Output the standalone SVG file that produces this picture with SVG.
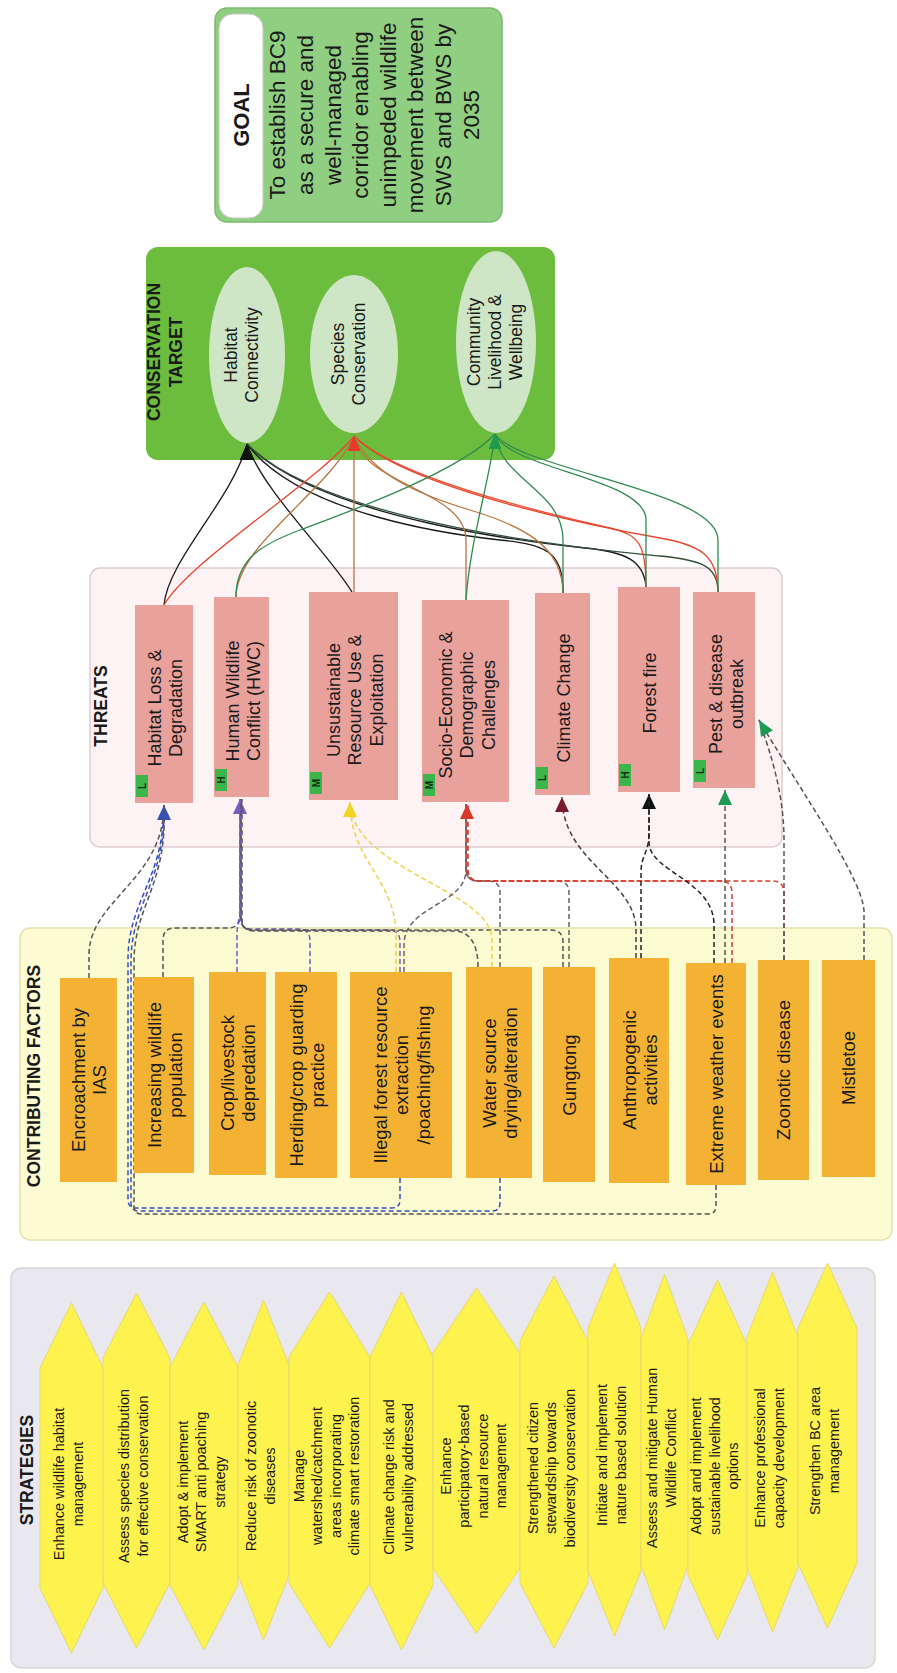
<svg xmlns="http://www.w3.org/2000/svg" width="897" height="1673" viewBox="0 0 897 1673">
<style>
text{font-family:"Liberation Sans",Arial,sans-serif;fill:#1a1a1a;text-anchor:middle}
.hdr{font-size:17.5px;font-weight:bold}
.goal{font-size:22.5px}
.goalh{font-size:22px;font-weight:bold}
.tg{font-size:17.5px}
.th{font-size:18px}
.cf{font-size:18.5px}
.st{font-size:14.5px}
.bd{font-size:10px;font-weight:bold;fill:#133013}
.thr{fill:#e9a19c}
.fac{fill:#f4b234}
.hex{fill:#fef24f;stroke:#e6da6c;stroke-width:1}
.ell{fill:#cfe6c6}
.badge{fill:#3cb54a}
.dl{fill:none;stroke-width:1.5;stroke-dasharray:5 3}
.sl{fill:none;stroke-width:1.3}
</style>
<defs>
<marker id="ab" markerUnits="userSpaceOnUse" markerWidth="14" markerHeight="16" viewBox="0 0 14 16" refX="7" refY="0" orient="0"><path d="M7,0 L14,16 L0,16 Z" fill="#111"/></marker>
<marker id="ar" markerUnits="userSpaceOnUse" markerWidth="12" markerHeight="15" viewBox="0 0 12 15" refX="6" refY="0" orient="0"><path d="M6,0 L12,15 L0,15 Z" fill="#e23b2a"/></marker>
<marker id="ag" markerUnits="userSpaceOnUse" markerWidth="12" markerHeight="15" viewBox="0 0 12 15" refX="6" refY="0" orient="0"><path d="M6,0 L12,15 L0,15 Z" fill="#1f9a52"/></marker>
<marker id="mblue" markerUnits="userSpaceOnUse" markerWidth="14" markerHeight="15" viewBox="0 0 14 15" refX="7" refY="0" orient="0"><path d="M7,0 L14,15 L0,15 Z" fill="#3550c0"/></marker>
<marker id="mpur" markerUnits="userSpaceOnUse" markerWidth="14" markerHeight="15" viewBox="0 0 14 15" refX="7" refY="0" orient="0"><path d="M7,0 L14,15 L0,15 Z" fill="#7a5cc6"/></marker>
<marker id="myel" markerUnits="userSpaceOnUse" markerWidth="14" markerHeight="15" viewBox="0 0 14 15" refX="7" refY="0" orient="0"><path d="M7,0 L14,15 L0,15 Z" fill="#f2d41e"/></marker>
<marker id="mred" markerUnits="userSpaceOnUse" markerWidth="14" markerHeight="15" viewBox="0 0 14 15" refX="7" refY="0" orient="0"><path d="M7,0 L14,15 L0,15 Z" fill="#d8392b"/></marker>
<marker id="mmar" markerUnits="userSpaceOnUse" markerWidth="14" markerHeight="15" viewBox="0 0 14 15" refX="7" refY="0" orient="0"><path d="M7,0 L14,15 L0,15 Z" fill="#7a1a2c"/></marker>
<marker id="mblk" markerUnits="userSpaceOnUse" markerWidth="14" markerHeight="15" viewBox="0 0 14 15" refX="7" refY="0" orient="0"><path d="M7,0 L14,15 L0,15 Z" fill="#111"/></marker>
<marker id="mgrn" markerUnits="userSpaceOnUse" markerWidth="14" markerHeight="15" viewBox="0 0 14 15" refX="7" refY="0" orient="0"><path d="M7,0 L14,15 L0,15 Z" fill="#1f9a52"/></marker>
<marker id="mgs" markerUnits="userSpaceOnUse" markerWidth="16" markerHeight="14" viewBox="0 0 16 14" refX="16" refY="7" orient="auto"><path d="M0,0 L16,7 L0,14 Z" fill="#1f9a52"/></marker>
</defs>
<rect width="897" height="1673" fill="#ffffff"/>

<!-- containers -->
<g id="containers">
<rect x="146" y="247" width="409" height="213" rx="12" fill="#6cbd3e"/>
<rect x="90" y="568" width="692" height="279" rx="10" fill="#fdf2f4" stroke="#e0ccd1" stroke-width="1.5"/>
<rect x="20" y="928" width="872" height="312" rx="10" fill="#fdfbd2" stroke="#e6e1ab" stroke-width="1.5"/>
<rect x="11" y="1268" width="864" height="400" rx="10" fill="#e9e8ee" stroke="#d6d5da" stroke-width="1.5"/>
<text class="hdr" transform="translate(165,352) rotate(-90)"><tspan x="0" y="-4.9">CONSERVATION</tspan><tspan x="0" y="17.1">TARGET</tspan></text>
<text class="hdr" transform="translate(101,706) rotate(-90)"><tspan x="0" y="6.1">THREATS</tspan></text>
<text class="hdr" transform="translate(34,1076) rotate(-90)"><tspan x="0" y="6.1">CONTRIBUTING FACTORS</tspan></text>
<text class="hdr" transform="translate(27,1470) rotate(-90)"><tspan x="0" y="6.1">STRATEGIES</tspan></text>
</g>

<!-- connectors -->
<g id="connectors">
<g id="target-links">
<path class="sl" stroke="#1b1b1b" d="M164,605 C168,560 232,500 247,444" marker-end="url(#ab)"/>
<path class="sl" stroke="#1b1b1b" d="M352,592 C330,555 262,490 247,444" marker-end="url(#ab)"/>
<path class="sl" stroke="#1b1b1b" stroke-width="2.6" d="M563,593 C563,550 545,545 500,540 S300,515 247,444" marker-end="url(#ab)"/>
<path class="sl" stroke="#1b1b1b" stroke-width="1.5" d="M646,587 C644,560 625,552 585,548 S320,520 247,444" marker-end="url(#ab)"/>
<path class="sl" stroke="#2f4f3a" stroke-width="1.5" d="M718,592 C718,565 700,560 660,556 S330,528 247,444" marker-end="url(#ab)"/>
<path class="sl" stroke="#e8452c" d="M164,605 C190,560 320,480 354,436" marker-end="url(#ar)"/>
<path class="sl" stroke="#b8743e" d="M236,597 C236,545 330,490 354,436" marker-end="url(#ar)"/>
<path class="sl" stroke="#b8743e" d="M354,592 L354,436" marker-end="url(#ar)"/>
<path class="sl" stroke="#b8743e" d="M466,600 L466,540 C466,490 362,485 354,436" marker-end="url(#ar)"/>
<path class="sl" stroke="#ea4a2e" stroke-width="2.6" d="M646,587 C646,545 640,535 610,528 S400,482 354,436" marker-end="url(#ar)"/>
<path class="sl" stroke="#e8452c" d="M718,592 C718,555 700,545 660,538 S410,492 354,436" marker-end="url(#ar)"/>
<path class="sl" stroke="#b8743e" d="M563,593 C563,545 520,525 470,510 S372,475 354,436" marker-end="url(#ar)"/>
<path class="sl" stroke="#2f8a50" d="M236,597 C236,560 260,545 300,530 S460,472 495,434" marker-end="url(#ag)"/>
<path class="sl" stroke="#2f8a50" d="M466,600 C470,540 490,480 495,434" marker-end="url(#ag)"/>
<path class="sl" stroke="#2f8a50" d="M563,593 L563,540 C563,490 500,480 495,434" marker-end="url(#ag)"/>
<path class="sl" stroke="#2f8a50" d="M646,587 L646,520 C646,478 510,470 495,434" marker-end="url(#ag)"/>
<path class="sl" stroke="#2f8a50" d="M718,592 L718,540 C718,490 520,470 495,434" marker-end="url(#ag)"/>
</g>
<g id="factor-links">
<path class="dl" stroke="#555" d="M89,978 L89,955 C89,900 164,880 164,805"/>
<path class="dl" stroke="#3550c0" d="M400,1178 L400,1200 Q400,1208 392,1208 L136,1208 Q128,1208 128,1200 L128,960 C128,900 164,880 164,805" marker-end="url(#mblue)"/>
<path class="dl" stroke="#3550c0" d="M500,1178 L500,1203 Q500,1211 492,1211 L139,1211 Q131,1211 131,1203 L131,962 C131,902 166,882 164,805"/>
<path class="dl" stroke="#555" d="M716,1185 L716,1206 Q716,1214 708,1214 L142,1214 Q134,1214 134,1206 L134,962 C134,905 168,885 164,805"/>
<path class="dl" stroke="#555" d="M163,977 L163,940 Q163,928 175,928 L228,928 Q240,928 240,916 L240,799"/>
<path class="dl" stroke="#7558c0" d="M237,972 L237,935 Q237,925 240,915 L240,799" marker-end="url(#mpur)"/>
<path class="dl" stroke="#7558c0" d="M310,972 L310,941 Q310,929 298,929 L252,929 Q240,929 240,917 L240,799"/>
<path class="dl" stroke="#7558c0" d="M400,972 L400,942 Q400,930 388,930 L253,930 Q241,930 241,918 L241,799"/>
<path class="dl" stroke="#555" d="M478,967 C478,945 470,931 455,931 L254,931 Q242,931 242,919 L242,799"/>
<path class="dl" stroke="#555" d="M563,967 L563,942 Q563,930 551,930 L253,930 Q241,930 241,918 L241,799"/>
<path class="dl" stroke="#efd24a" d="M396,972 L396,935 C396,880 350,860 350,802" marker-end="url(#myel)"/>
<path class="dl" stroke="#efd24a" d="M492,967 L492,940 C492,890 352,870 350,802"/>
<path class="dl" stroke="#666" d="M404,972 L404,945 C404,905 466,905 466,870 L466,804"/>
<path class="dl" stroke="#666" d="M500,967 L500,893 Q500,881 488,881 L478,881 Q466,881 466,869 L466,804"/>
<path class="dl" stroke="#666" d="M569,967 L569,893 Q569,881 557,881 L478,881 Q466,881 466,869 L466,804"/>
<path class="dl" stroke="#d83a2a" d="M732,963 L732,893 Q732,881 720,881 L479,881 Q467,881 467,869 L467,804" marker-end="url(#mred)"/>
<path class="dl" stroke="#d83a2a" d="M784,960 L784,893 Q784,881 772,881 L480,881 Q468,881 468,869 L468,804"/>
<path class="dl" stroke="#4a3a3e" d="M636,958 L636,930 C636,880 562,862 562,797" marker-end="url(#mmar)"/>
<path class="dl" stroke="#222" d="M641,958 L641,872 C641,856 649,852 649,834 L649,794" marker-end="url(#mblk)"/>
<path class="dl" stroke="#222" d="M714,963 L714,925 C714,880 649,872 649,842 L649,794"/>
<path class="dl" stroke="#555" d="M725,963 L725,790" marker-end="url(#mgrn)"/>
<path class="dl" stroke="#555" d="M784,960 L784,840 C784,792 770,752 759,720"/>
<path class="dl" stroke="#555" d="M864,960 L864,912 C864,880 800,790 759,720" marker-end="url(#mgs)"/>
</g>
</g>

<!-- goal -->
<g id="goal">
<rect x="215" y="8" width="287" height="214" rx="12" fill="#90cf82" stroke="#7db86f" stroke-width="1.5"/>
<rect x="219" y="14" width="44" height="204" rx="14" fill="#ffffff" stroke="#c9c9c9" stroke-width="1"/>
<text class="goalh" transform="translate(241,115) rotate(-90)"><tspan x="0" y="7.7">GOAL</tspan></text>
<text class="goal" transform="translate(374,115) rotate(-90)"><tspan x="0" y="-88.7">To establish BC9</tspan><tspan x="0" y="-61.1">as a secure and</tspan><tspan x="0" y="-33.5">well-managed</tspan><tspan x="0" y="-5.9">corridor enabling</tspan><tspan x="0" y="21.7">unimpeded wildlife</tspan><tspan x="0" y="49.3">movement between</tspan><tspan x="0" y="76.9">SWS and BWS by</tspan><tspan x="0" y="104.5">2035</tspan></text>
</g>

<!-- conservation targets -->
<g id="target-habitat"><ellipse class="ell" cx="247" cy="355" rx="38" ry="88"/><text class="tg" transform="translate(241,355) rotate(-90)"><tspan x="0" y="-4.4">Habitat</tspan><tspan x="0" y="16.6">Connectivity</tspan></text></g>
<g id="target-species"><ellipse class="ell" cx="354" cy="354" rx="44" ry="79"/><text class="tg" transform="translate(348,354) rotate(-90)"><tspan x="0" y="-4.4">Species</tspan><tspan x="0" y="16.6">Conservation</tspan></text></g>
<g id="target-community"><ellipse class="ell" cx="496" cy="342" rx="40" ry="91"/><text class="tg" transform="translate(495,342) rotate(-90)"><tspan x="0" y="-14.9">Community</tspan><tspan x="0" y="6.1">Livelihood &amp;</tspan><tspan x="0" y="27.1">Wellbeing</tspan></text></g>

<!-- threats -->
<g id="threat-habitat"><rect class="thr" x="135" y="605" width="58" height="198"/><rect class="badge" x="136" y="775" width="12" height="22"/><text class="bd" transform="translate(142,786) rotate(-90)"><tspan x="0" y="3.5">L</tspan></text><text class="th" transform="translate(165,708) rotate(-90)"><tspan x="0" y="-4.45">Habitat Loss &amp;</tspan><tspan x="0" y="17.05">Degradation</tspan></text></g>
<g id="threat-hwc"><rect class="thr" x="214" y="597" width="55" height="200"/><rect class="badge" x="215" y="769" width="12" height="22"/><text class="bd" transform="translate(221,780) rotate(-90)"><tspan x="0" y="3.5">H</tspan></text><text class="th" transform="translate(243,701) rotate(-90)"><tspan x="0" y="-4.45">Human Wildlife</tspan><tspan x="0" y="17.05">Conflict (HWC)</tspan></text></g>
<g id="threat-unsustainable"><rect class="thr" x="309" y="592" width="89" height="208"/><rect class="badge" x="310" y="772" width="12" height="22"/><text class="bd" transform="translate(316,783) rotate(-90)"><tspan x="0" y="3.5">M</tspan></text><text class="th" transform="translate(355,700) rotate(-90)"><tspan x="0" y="-15.2">Unsustainable</tspan><tspan x="0" y="6.3">Resource Use &amp;</tspan><tspan x="0" y="27.8">Exploitation</tspan></text></g>
<g id="threat-socio"><rect class="thr" x="422" y="600" width="87" height="202"/><rect class="badge" x="423" y="774" width="12" height="22"/><text class="bd" transform="translate(429,785) rotate(-90)"><tspan x="0" y="3.5">M</tspan></text><text class="th" transform="translate(467,705) rotate(-90)"><tspan x="0" y="-15.2">Socio-Economic &amp;</tspan><tspan x="0" y="6.3">Demographic</tspan><tspan x="0" y="27.8">Challenges</tspan></text></g>
<g id="threat-climate"><rect class="thr" x="535" y="593" width="55" height="202"/><rect class="badge" x="536" y="767" width="12" height="22"/><text class="bd" transform="translate(542,778) rotate(-90)"><tspan x="0" y="3.5">L</tspan></text><text class="th" transform="translate(564,698) rotate(-90)"><tspan x="0" y="6.3">Climate Change</tspan></text></g>
<g id="threat-fire"><rect class="thr" x="618" y="587" width="62" height="205"/><rect class="badge" x="619" y="764" width="12" height="22"/><text class="bd" transform="translate(625,775) rotate(-90)"><tspan x="0" y="3.5">H</tspan></text><text class="th" transform="translate(650,693) rotate(-90)"><tspan x="0" y="6.3">Forest fire</tspan></text></g>
<g id="threat-pest"><rect class="thr" x="693" y="592" width="62" height="196"/><rect class="badge" x="694" y="760" width="12" height="22"/><text class="bd" transform="translate(700,771) rotate(-90)"><tspan x="0" y="3.5">L</tspan></text><text class="th" transform="translate(726,694) rotate(-90)"><tspan x="0" y="-4.45">Pest &amp; disease</tspan><tspan x="0" y="17.05">outbreak</tspan></text></g>

<!-- contributing factors -->
<g id="cf-ias"><rect class="fac" x="60" y="978" width="57" height="204"/><text class="cf" transform="translate(89,1080) rotate(-90)"><tspan x="0" y="-4.3">Encroachment by</tspan><tspan x="0" y="17.2">IAS</tspan></text></g>
<g id="cf-wildlife"><rect class="fac" x="134" y="977" width="60" height="196"/><text class="cf" transform="translate(165,1075) rotate(-90)"><tspan x="0" y="-4.3">Increasing wildlife</tspan><tspan x="0" y="17.2">population</tspan></text></g>
<g id="cf-crop"><rect class="fac" x="209" y="972" width="57" height="203"/><text class="cf" transform="translate(238,1073) rotate(-90)"><tspan x="0" y="-4.3">Crop/livestock</tspan><tspan x="0" y="17.2">depredation</tspan></text></g>
<g id="cf-herding"><rect class="fac" x="275" y="972" width="62" height="206"/><text class="cf" transform="translate(307,1075) rotate(-90)"><tspan x="0" y="-4.3">Herding/crop guarding</tspan><tspan x="0" y="17.2">practice</tspan></text></g>
<g id="cf-illegal"><rect class="fac" x="350" y="972" width="102" height="206"/><text class="cf" transform="translate(402,1075) rotate(-90)"><tspan x="0" y="-15.05">Illegal forest resource</tspan><tspan x="0" y="6.45">extraction</tspan><tspan x="0" y="27.95">/poaching/fishing</tspan></text></g>
<g id="cf-water"><rect class="fac" x="466" y="967" width="66" height="211"/><text class="cf" transform="translate(500,1073) rotate(-90)"><tspan x="0" y="-4.3">Water source</tspan><tspan x="0" y="17.2">drying/alteration</tspan></text></g>
<g id="cf-gungtong"><rect class="fac" x="543" y="967" width="52" height="215"/><text class="cf" transform="translate(570,1075) rotate(-90)"><tspan x="0" y="6.45">Gungtong</tspan></text></g>
<g id="cf-anthropogenic"><rect class="fac" x="609" y="958" width="60" height="225"/><text class="cf" transform="translate(640,1070) rotate(-90)"><tspan x="0" y="-4.3">Anthropogenic</tspan><tspan x="0" y="17.2">activities</tspan></text></g>
<g id="cf-weather"><rect class="fac" x="686" y="963" width="60" height="222"/><text class="cf" transform="translate(717,1074) rotate(-90)"><tspan x="0" y="6.45">Extreme weather events</tspan></text></g>
<g id="cf-zoonotic"><rect class="fac" x="758" y="960" width="51" height="220"/><text class="cf" transform="translate(784,1070) rotate(-90)"><tspan x="0" y="6.45">Zoonotic disease</tspan></text></g>
<g id="cf-mistletoe"><rect class="fac" x="822" y="960" width="53" height="217"/><text class="cf" transform="translate(849,1068) rotate(-90)"><tspan x="0" y="6.45">Mistletoe</tspan></text></g>

<!-- strategies -->
<g id="s1"><polygon class="hex" points="71.5,1303 103,1368 103,1588 71.5,1653 40,1588 40,1368"/><text class="st" transform="translate(68.5,1484) rotate(-90)"><tspan x="0" y="-4.15">Enhance wildlife habitat</tspan><tspan x="0" y="14.35">management</tspan></text></g>
<g id="s2"><polygon class="hex" points="136.5,1293 170,1358 170,1583 136.5,1648 103,1583 103,1358"/><text class="st" transform="translate(133.5,1476) rotate(-90)"><tspan x="0" y="-4.15">Assess species distribution</tspan><tspan x="0" y="14.35">for effective conservation</tspan></text></g>
<g id="s3"><polygon class="hex" points="204,1302 238,1367 238,1585 204,1650 170,1585 170,1367"/><text class="st" transform="translate(201,1482) rotate(-90)"><tspan x="0" y="-13.4">Adopt &amp; implement</tspan><tspan x="0" y="5.1">SMART anti poaching</tspan><tspan x="0" y="23.6">strategy</tspan></text></g>
<g id="s4"><polygon class="hex" points="263.5,1300 289,1365 289,1575 263.5,1640 238,1575 238,1365"/><text class="st" transform="translate(260.5,1476) rotate(-90)"><tspan x="0" y="-4.15">Reduce risk of zoonotic</tspan><tspan x="0" y="14.35">diseases</tspan></text></g>
<g id="s5"><polygon class="hex" points="329.5,1292 370,1357 370,1583 329.5,1648 289,1583 289,1357"/><text class="st" transform="translate(326.5,1476) rotate(-90)"><tspan x="0" y="-22.65">Manage</tspan><tspan x="0" y="-4.15">watershed/catchment</tspan><tspan x="0" y="14.35">areas incorporating</tspan><tspan x="0" y="32.85">climate smart restoration</tspan></text></g>
<g id="s6"><polygon class="hex" points="401.5,1292 433,1357 433,1585 401.5,1650 370,1585 370,1357"/><text class="st" transform="translate(398.5,1477) rotate(-90)"><tspan x="0" y="-4.15">Climate change risk and</tspan><tspan x="0" y="14.35">vulnerability addressed</tspan></text></g>
<g id="s7"><polygon class="hex" points="476.5,1288 520,1353 520,1568 476.5,1633 433,1568 433,1353"/><text class="st" transform="translate(473.5,1466) rotate(-90)"><tspan x="0" y="-22.65">Enhance</tspan><tspan x="0" y="-4.15">participatory-based</tspan><tspan x="0" y="14.35">natural resource</tspan><tspan x="0" y="32.85">management</tspan></text></g>
<g id="s8"><polygon class="hex" points="554,1276 588,1341 588,1583 554,1648 520,1583 520,1341"/><text class="st" transform="translate(551,1468) rotate(-90)"><tspan x="0" y="-13.4">Strengthened citizen</tspan><tspan x="0" y="5.1">stewardship towards</tspan><tspan x="0" y="23.6">biodiversity conservation</tspan></text></g>
<g id="s9"><polygon class="hex" points="614.5,1263 641,1328 641,1571 614.5,1636 588,1571 588,1328"/><text class="st" transform="translate(611.5,1455) rotate(-90)"><tspan x="0" y="-4.15">Initiate and implement</tspan><tspan x="0" y="14.35">nature based solution</tspan></text></g>
<g id="s10"><polygon class="hex" points="664.5,1274 688,1339 688,1565 664.5,1630 641,1565 641,1339"/><text class="st" transform="translate(661.5,1458) rotate(-90)"><tspan x="0" y="-4.15">Assess and mitigate Human</tspan><tspan x="0" y="14.35">Wildlife Conflict</tspan></text></g>
<g id="s11"><polygon class="hex" points="717.5,1280 747,1345 747,1575 717.5,1640 688,1575 688,1345"/><text class="st" transform="translate(714.5,1466) rotate(-90)"><tspan x="0" y="-13.4">Adopt and implement</tspan><tspan x="0" y="5.1">sustainable livelihood</tspan><tspan x="0" y="23.6">options</tspan></text></g>
<g id="s12"><polygon class="hex" points="772.5,1272 798,1337 798,1567 772.5,1632 747,1567 747,1337"/><text class="st" transform="translate(769.5,1458) rotate(-90)"><tspan x="0" y="-4.15">Enhance professional</tspan><tspan x="0" y="14.35">capacity development</tspan></text></g>
<g id="s13"><polygon class="hex" points="827.5,1263 857,1328 857,1563 827.5,1628 798,1563 798,1328"/><text class="st" transform="translate(824.5,1451) rotate(-90)"><tspan x="0" y="-4.15">Strengthen BC area</tspan><tspan x="0" y="14.35">management</tspan></text></g>
</svg>
